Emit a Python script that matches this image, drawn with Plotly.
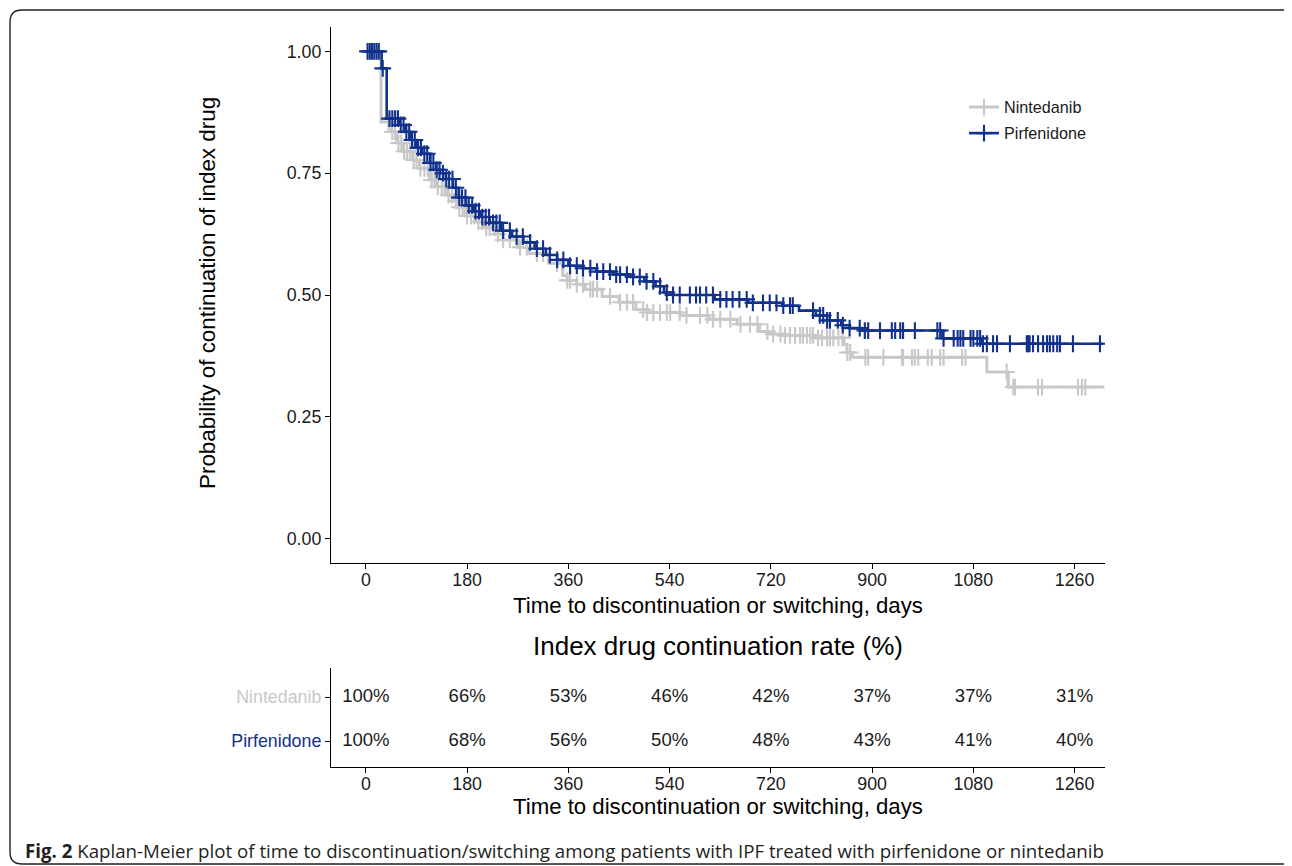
import numpy as np
import plotly.graph_objects as go

# page body has an 8px margin: figure occupies page pixels 8..1292 / 8..866
OFF = 8
W, H = 1292 - OFF, 866 - OFF

# ---------------- data ----------------
groups = ["Nintedanib", "Pirfenidone"]

nint_t = [0, 27, 45, 55, 65, 83, 95, 113, 125, 143, 155, 165, 176, 195, 210, 230, 244, 270, 290, 325,
          350, 358, 375, 390, 420, 450, 480, 500, 560, 610, 660, 700, 715, 740, 800, 850, 855, 865,
          1104, 1142, 1313]
nint_s = [1.0, 0.855, 0.835, 0.812, 0.795, 0.777, 0.760, 0.736, 0.722, 0.705, 0.693, 0.680, 0.662, 0.650,
          0.638, 0.625, 0.613, 0.598, 0.585, 0.565, 0.540, 0.530, 0.522, 0.512, 0.497, 0.485, 0.470, 0.464,
          0.458, 0.450, 0.440, 0.425, 0.420, 0.417, 0.412, 0.399, 0.382, 0.372, 0.342, 0.311, 0.311]

pirf_t = [0, 28, 37, 60, 70, 78, 90, 100, 114, 125, 132, 142, 155, 165, 178, 192, 205, 220, 240, 260,
          280, 300, 320, 340, 360, 385, 410, 440, 470, 495, 515, 530, 545, 620, 680, 740, 770, 800, 820,
          845, 860, 880, 1025, 1095, 1310]
pirf_s = [1.0, 0.965, 0.862, 0.849, 0.835, 0.818, 0.802, 0.790, 0.771, 0.757, 0.750, 0.738, 0.720, 0.700,
          0.684, 0.672, 0.660, 0.648, 0.632, 0.620, 0.608, 0.595, 0.582, 0.572, 0.560, 0.555, 0.548, 0.542,
          0.537, 0.528, 0.518, 0.505, 0.500, 0.491, 0.484, 0.478, 0.468, 0.458, 0.448, 0.438, 0.432, 0.427,
          0.411, 0.400, 0.400]

nint_cens = [40, 47, 52, 58, 63, 68, 73, 78, 85, 90, 97, 104, 110, 117, 122, 128, 135, 140, 147, 153, 160,
             166, 172, 180, 187, 193, 200, 207, 214, 220, 228, 235, 244, 256, 274, 286, 304, 315, 340, 358,
             363, 375, 386, 399, 404, 411, 434, 452, 464, 475, 493, 500, 511, 523, 535, 541, 558, 570, 594,
             607, 617, 630, 648, 666, 683, 696, 714, 724, 737, 745, 754, 763, 772, 777, 784, 790, 795, 804,
             811, 820, 825, 831, 840, 847, 856, 861, 888, 893, 920, 953, 955, 971, 976, 982, 999, 1006, 1021,
             1027, 1060, 1066, 1139, 1151, 1154, 1195, 1202, 1266, 1273, 1279]

pirf_cens = [3, 7, 11, 15, 19, 23, 30, 42, 47, 52, 57, 62, 67, 72, 77, 82, 87, 93, 98, 104, 109, 115, 120,
             126, 131, 137, 143, 148, 154, 160, 166, 171, 177, 183, 189, 195, 201, 207, 213, 219, 226, 232,
             238, 244, 256, 268, 279, 292, 304, 315, 327, 340, 351, 363, 375, 386, 399, 411, 422, 434, 445,
             452, 464, 475, 487, 499, 511, 523, 535, 546, 558, 576, 587, 594, 605, 617, 630, 641, 652, 664,
             677, 688, 706, 718, 730, 742, 754, 759, 795, 807, 813, 820, 825, 839, 848, 860, 878, 887, 893,
             914, 935, 941, 950, 955, 976, 1016, 1021, 1027, 1045, 1052, 1057, 1062, 1075, 1080, 1087, 1092,
             1097, 1104, 1115, 1122, 1145, 1175, 1177, 1180, 1186, 1195, 1204, 1211, 1216, 1222, 1229, 1234,
             1257, 1305]

table_times = [0, 180, 360, 540, 720, 900, 1080, 1260]
nint_rate = [100, 66, 53, 46, 42, 37, 37, 31]
pirf_rate = [100, 68, 56, 50, 48, 43, 41, 40]

# ---------------- style ----------------
GRAY = "#C8C8C8"
BLUE = "#11318C"
FONT = "Liberation Sans, Arial, sans-serif"


def px_x(p):
    return (p - OFF) / W


def px_y(p):
    return 1 - (p - OFF) / H


def step_at(knots_t, knots_s, times):
    kt = np.asarray(knots_t)
    ks = np.asarray(knots_s)
    idx = np.searchsorted(kt, np.asarray(times), side="right") - 1
    return ks[idx]


fig = go.Figure()

series = [
    ("Nintedanib", nint_t, nint_s, nint_cens, GRAY, 3),
    ("Pirfenidone", pirf_t, pirf_s, pirf_cens, BLUE, 2.6),
]

for name, kt, ks, cens, col, lw in series:
    fig.add_trace(go.Scatter(
        x=kt, y=ks, mode="lines", line=dict(color=col, width=lw, shape="hv"),
        showlegend=False, hoverinfo="skip", xaxis="x", yaxis="y"))
    fig.add_trace(go.Scatter(
        x=cens, y=step_at(kt, ks, cens), mode="markers",
        marker=dict(symbol="cross-thin", size=12, line=dict(color=col, width=2.1)),
        showlegend=False, hoverinfo="skip", xaxis="x", yaxis="y"))
    # legend entry
    fig.add_trace(go.Scatter(
        x=[None], y=[None], mode="lines+markers", name=name, legendgroup=name,
        line=dict(color=col, width=lw),
        marker=dict(symbol="cross-thin", size=12, line=dict(color=col, width=2.1)),
        xaxis="x", yaxis="y"))

# continuation-rate table panel
rows = [(2, nint_rate), (1, pirf_rate)]
for yv, rates in rows:
    fig.add_trace(go.Scatter(
        x=table_times, y=[yv] * len(table_times), mode="text",
        text=[f"{r}%" for r in rates],
        textfont=dict(family=FONT, size=18.5, color="#1a1a1a"),
        showlegend=False, hoverinfo="skip", xaxis="x2", yaxis="y2"))

xdom = [px_x(331), px_x(1105)]
axis_common = dict(showline=True, linecolor="black", linewidth=1.3, ticks="outside",
                   ticklen=5, tickwidth=1.2, tickcolor="black", showgrid=False, zeroline=False,
                   tickfont=dict(family=FONT, size=17.8, color="#1a1a1a"))

fig.update_layout(
    width=W, height=H,
    margin=dict(l=0, r=0, t=0, b=0),
    paper_bgcolor="white", plot_bgcolor="white",
    font=dict(family=FONT, color="#1a1a1a"),
    xaxis=dict(domain=xdom, range=[-62, 1314], tickvals=table_times, anchor="y",
               ticklabelstandoff=-5, **axis_common),
    yaxis=dict(domain=[px_y(563), px_y(27)], range=[-0.05, 1.05],
               tickvals=[0, 0.25, 0.5, 0.75, 1.0],
               ticktext=["0.00", "0.25", "0.50", "0.75", "1.00"], anchor="x", **axis_common),
    xaxis2=dict(domain=xdom, range=[-62, 1314], tickvals=table_times, anchor="y2",
                ticklabelstandoff=-5, **axis_common),
    yaxis2=dict(domain=[px_y(767), px_y(668)], range=[0.41, 2.66], tickvals=[2, 1],
                ticktext=[f'<span style="color:{GRAY}">Nintedanib</span>',
                          f'<span style="color:{BLUE}">Pirfenidone</span>'],
                anchor="x2", **axis_common),
    legend=dict(x=px_x(964), y=px_y(90), xanchor="left", yanchor="top",
                font=dict(family=FONT, size=16.2, color="#1a1a1a"),
                bgcolor="rgba(0,0,0,0)", itemwidth=30, tracegroupgap=2),
    showlegend=True,
)

annos = [
    dict(text="Time to discontinuation or switching, days", x=px_x(718), y=px_y(605),
         font=dict(family=FONT, size=22.2, color="black")),
    dict(text="Time to discontinuation or switching, days", x=px_x(718), y=px_y(806),
         font=dict(family=FONT, size=22.2, color="black")),
    dict(text="Index drug continuation rate (%)", x=px_x(718), y=px_y(646),
         font=dict(family=FONT, size=26, color="black")),
    dict(text="Probability of continuation of index drug", x=px_x(207), y=px_y(293),
         textangle=-90, font=dict(family=FONT, size=22.4, color="black")),
]
for a in annos:
    fig.add_annotation(xref="paper", yref="paper", xanchor="center", yanchor="middle",
                       showarrow=False, **a)

fig.add_annotation(xref="paper", yref="paper", x=px_x(23), y=px_y(850), xanchor="left",
                   yanchor="middle", showarrow=False,
                   text="<b>Fig. 2</b> Kaplan-Meier plot of time to discontinuation/switching among patients "
                        "with IPF treated with pirfenidone or nintedanib",
                   font=dict(family="Open Sans, sans-serif", size=18.7, color="#231f20"))

# rounded frame
x0, y0, x1, y1, r = px_x(10), px_y(10), px_x(1300), px_y(864), 12
rx, ry = r / W, r / H
path = (f"M {x0},{y1 + ry} L {x0},{y0 - ry} Q {x0},{y0} {x0 + rx},{y0} "
        f"L {x1 - rx},{y0} Q {x1},{y0} {x1},{y0 - ry} L {x1},{y1 + ry} Q {x1},{y1} {x1 - rx},{y1} "
        f"L {x0 + rx},{y1} Q {x0},{y1} {x0},{y1 + ry} Z")
fig.add_shape(type="path", xref="paper", yref="paper", path=path,
              line=dict(color="#222", width=1.4), layer="below")

fig.write_html("out.html")
